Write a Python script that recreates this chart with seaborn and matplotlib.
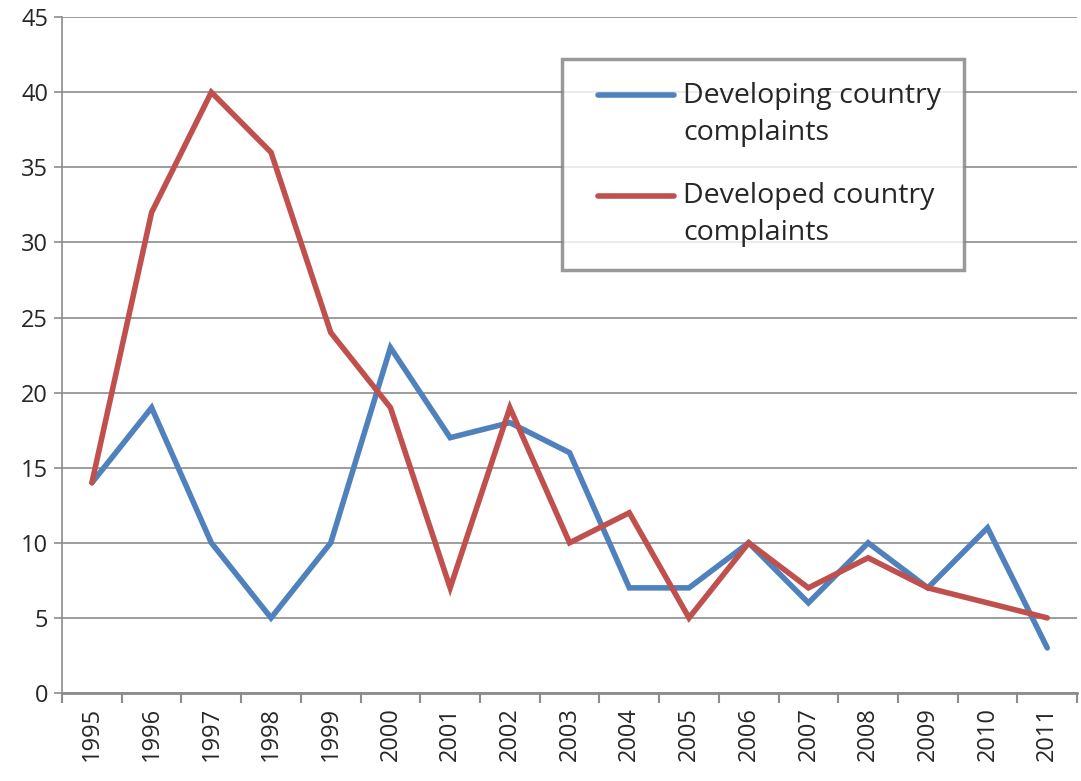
import pandas as pd
import matplotlib.pyplot as plt
import seaborn as sns
from matplotlib.legend_handler import HandlerLine2D

# Data
years = [str(y) for y in range(1995, 2012)]
developing = [14, 19, 10, 5, 10, 23, 17, 18, 16, 7, 7, 10, 6, 10, 7, 11, 3]
developed = [14, 32, 40, 36, 24, 19, 7, 19, 10, 12, 5, 10, 7, 9, 7, 6, 5]
series_names = ["Developing country\ncomplaints", "Developed country\ncomplaints"]

df = pd.DataFrame({
    "year": years * 2,
    "pos": list(range(len(years))) * 2,
    "value": developing + developed,
    "series": [series_names[0]] * len(years) + [series_names[1]] * len(years),
})


# legend line next to the first text line, like Excel does
class TopLineHandler(HandlerLine2D):
    def create_artists(self, legend, orig_handle, xdescent, ydescent,
                       width, height, fontsize, trans):
        artists = super().create_artists(legend, orig_handle, xdescent, ydescent,
                                         width, height, fontsize, trans)
        for a in artists:
            y = a.get_ydata()
            a.set_ydata([v + 14 for v in y])
            x = list(a.get_xdata())
            if len(x) >= 2:
                a.set_xdata([x[0] + 9, x[-1] - 5])
                a.set_ydata([y[0] + 14, y[-1] + 14])
        return artists


sns.set_style("white")
plt.rcParams['font.family'] = ['Open Sans', 'DejaVu Sans']

fig = plt.figure(figsize=(10.81, 7.81), dpi=100)
ax = fig.add_axes([0.0574, 0.1127, 0.939, 0.8653])

sns.lineplot(
    data=df, x="pos", y="value", hue="series",
    palette=["#4F81BD", "#C0504D"], linewidth=4, ax=ax,
    solid_joinstyle="miter",
)

# Axes styling (Excel look)
ax.set_xlim(-0.5, len(years) - 0.5)
ax.set_ylim(0, 45)
ax.set_yticks(range(0, 46, 5))
ax.yaxis.grid(True, color="#8c8c8c", linewidth=1.2)
ax.set_axisbelow(True)

ax.set_xticks([i - 0.5 for i in range(len(years) + 1)])
ax.set_xticklabels([])
ax.set_xticks(range(len(years)), minor=True)
ax.set_xticklabels(years, minor=True, rotation=90, fontsize=17)
ax.tick_params(axis="x", which="minor", length=0, pad=10)
ax.tick_params(axis="x", which="major", length=7, width=1.5, color="#8c8c8c", direction="out")
ax.tick_params(axis="y", length=6, width=1.2, color="#8c8c8c", direction="out", labelsize=17, pad=4)
ax.tick_params(bottom=True, left=True)

for s in ["top", "right"]:
    ax.spines[s].set_visible(False)
ax.spines["left"].set_color("#8c8c8c")
ax.spines["left"].set_linewidth(1.2)
ax.spines["bottom"].set_color("#8c8c8c")
ax.spines["bottom"].set_linewidth(2)

ax.set_xlabel("")
ax.set_ylabel("")

handles, labels = ax.get_legend_handles_labels()
leg = ax.legend(
    handles, labels,
    loc="upper left", bbox_to_anchor=(0.493, 0.938), fontsize=20.5,
    frameon=True, fancybox=False, handlelength=3.35, labelspacing=1.25,
    borderpad=0.8, handletextpad=0.1, borderaxespad=0,
    handler_map={h: TopLineHandler() for h in handles},
)
for t in leg.get_texts():
    t.set_linespacing(1.42)
leg.get_frame().set_edgecolor("#808080")
leg.get_frame().set_linewidth(2.5)

plt.savefig("out.png", dpi=100)
